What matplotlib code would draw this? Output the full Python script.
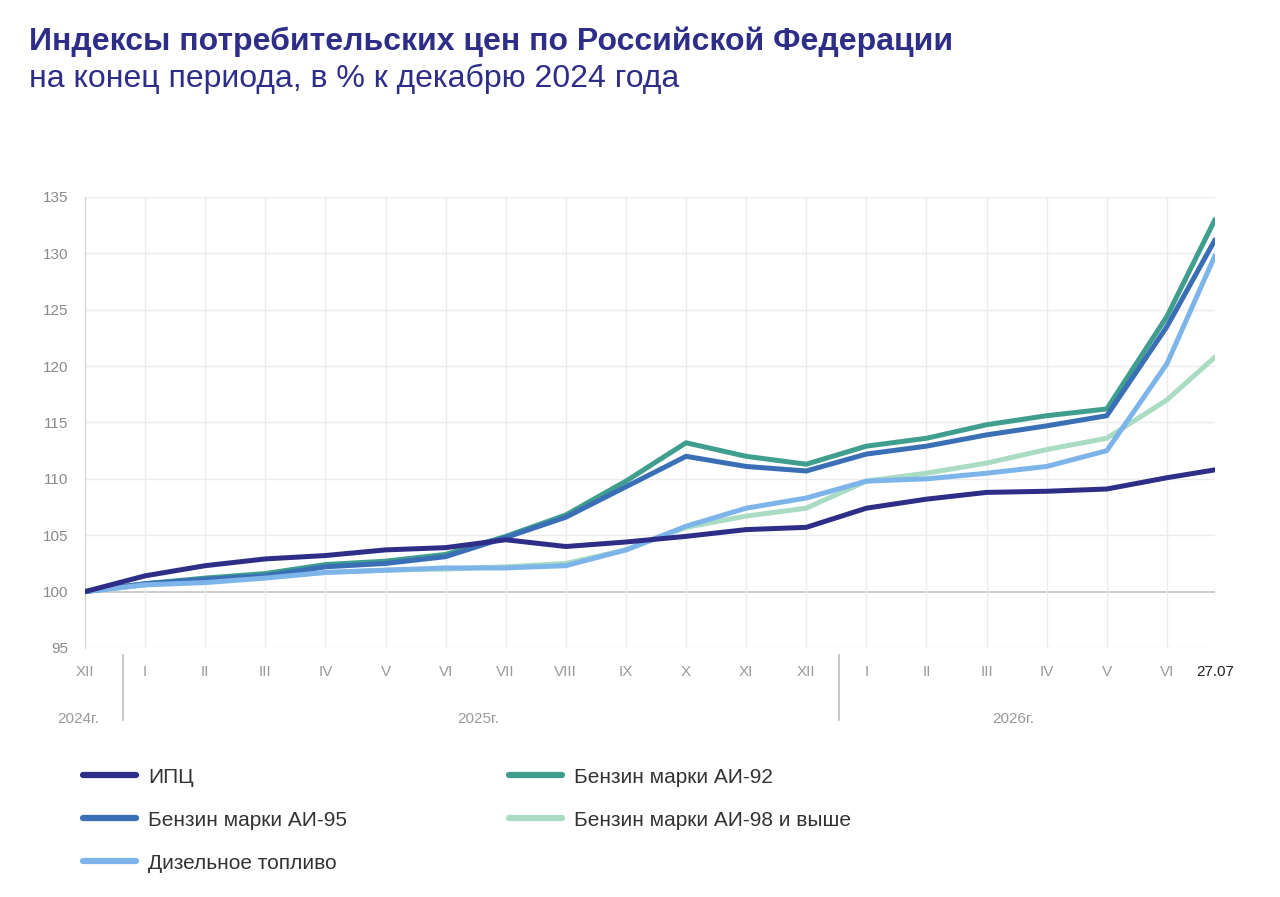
import matplotlib.pyplot as plt
from matplotlib.lines import Line2D

plt.rcParams['font.family'] = ['Liberation Sans', 'DejaVu Sans']

# позиции точек: XII 2024 = 0, ... VI 2026 = 18, 27.07.2026 ~ 18.8
x_pos = list(range(19)) + [18.8]
month_labels = ['XII', 'I', 'II', 'III', 'IV', 'V', 'VI', 'VII', 'VIII', 'IX',
                'X', 'XI', 'XII', 'I', 'II', 'III', 'IV', 'V', 'VI', '27.07']

ipc = [100.0, 101.4, 102.3, 102.9, 103.2, 103.7, 103.9, 104.6, 104.0, 104.4,
       104.9, 105.5, 105.7, 107.4, 108.2, 108.8, 108.9, 109.1, 110.1, 110.8]
ai92 = [100.0, 100.7, 101.2, 101.6, 102.4, 102.7, 103.3, 104.9, 106.8, 109.8,
        113.2, 112.0, 111.3, 112.9, 113.6, 114.8, 115.6, 116.2, 124.4, 133.0]
ai95 = [100.0, 100.7, 101.1, 101.4, 102.2, 102.5, 103.1, 104.8, 106.6, 109.3,
        112.0, 111.1, 110.7, 112.2, 112.9, 113.9, 114.7, 115.6, 123.5, 131.2]
ai98 = [100.0, 100.6, 101.0, 101.3, 101.7, 101.9, 102.0, 102.2, 102.5, 103.7,
        105.7, 106.7, 107.4, 109.8, 110.5, 111.4, 112.6, 113.6, 117.0, 120.8]
diesel = [100.0, 100.6, 100.8, 101.2, 101.7, 101.9, 102.1, 102.1, 102.3, 103.7,
          105.8, 107.4, 108.3, 109.8, 110.0, 110.5, 111.1, 112.5, 120.2, 129.8]

years = ['2024г.', '2025г.', '2026г.']
year_pos = [-0.12, 6.55, 15.45]
year_breaks = [0.63, 12.55]

c_ipc = '#2e2d88'
c_92 = '#3f9e8e'
c_95 = '#3a6fb5'
c_98 = '#a9dcc2'
c_dt = '#7db5ea'

fig = plt.figure(figsize=(12.8, 8.97), dpi=100)
ax = fig.add_axes([0.0664, 0.2776, 0.8828, 0.5028])

lw = 3.6
ax.plot(x_pos, ai98, color=c_98, lw=lw, solid_capstyle='round', zorder=3)
ax.plot(x_pos, ai92, color=c_92, lw=lw, solid_capstyle='round', zorder=4)
ax.plot(x_pos, ai95, color=c_95, lw=lw, solid_capstyle='round', zorder=5)
ax.plot(x_pos, diesel, color=c_dt, lw=lw, solid_capstyle='round', zorder=6)
ax.plot(x_pos, ipc, color=c_ipc, lw=lw, solid_capstyle='round', zorder=7)

ax.set_xlim(0, 18.8)
ax.set_ylim(95, 135)
ax.set_yticks(range(95, 136, 5))
ax.tick_params(axis='y', length=0, labelsize=11, labelcolor='#8a8a8a', pad=12)
ax.set_xticks(x_pos)
ax.set_xticklabels(month_labels)
ax.tick_params(axis='x', length=0, labelsize=11, labelcolor='#9a9a9a', pad=12)
ax.get_xticklabels()[-1].set_color('#222222')

for y in range(95, 136, 5):
    ax.axhline(y, color='#c8c8c8' if y == 100 else '#ececec', lw=1.3 if y == 100 else 1, zorder=1)
for x in x_pos[1:-1]:
    ax.axvline(x, color='#ececec', lw=1, zorder=1)

for s in ['top', 'right', 'bottom']:
    ax.spines[s].set_visible(False)
ax.spines['left'].set_color('#cfcfcf')

# разделители годов и подписи
for xb in year_breaks:
    ax.plot([xb, xb], [-0.015, -0.16], transform=ax.get_xaxis_transform(),
            color='#bdbdbd', lw=1.2, clip_on=False)
for yr, xp in zip(years, year_pos):
    ax.text(xp, -0.157, yr, transform=ax.get_xaxis_transform(), ha='center',
            va='center', fontsize=11, color='#9a9a9a')

fig.text(0.023, 0.953, 'Индексы потребительских цен по Российской Федерации',
         fontsize=23, fontweight='bold', color=c_ipc, va='center')
fig.text(0.023, 0.912, 'на конец периода, в % к декабрю 2024 года',
         fontsize=23, color=c_ipc, va='center')

def handle(c):
    return Line2D([], [], color=c, lw=4.5, solid_capstyle='round')

leg_kw = dict(frameon=False, fontsize=15, labelspacing=1.15, handlelength=2.55,
              handletextpad=0.58, labelcolor='#333333', loc='upper left')
fig.legend([handle(c_ipc), handle(c_95), handle(c_dt)],
           ['ИПЦ', 'Бензин марки АИ-95', 'Дизельное топливо'],
           bbox_to_anchor=(0.050, 0.165), **leg_kw)
fig.legend([handle(c_92), handle(c_98)],
           ['Бензин марки АИ-92', 'Бензин марки АИ-98 и выше'],
           bbox_to_anchor=(0.383, 0.165), **leg_kw)

fig.savefig('out.png', dpi=100)
